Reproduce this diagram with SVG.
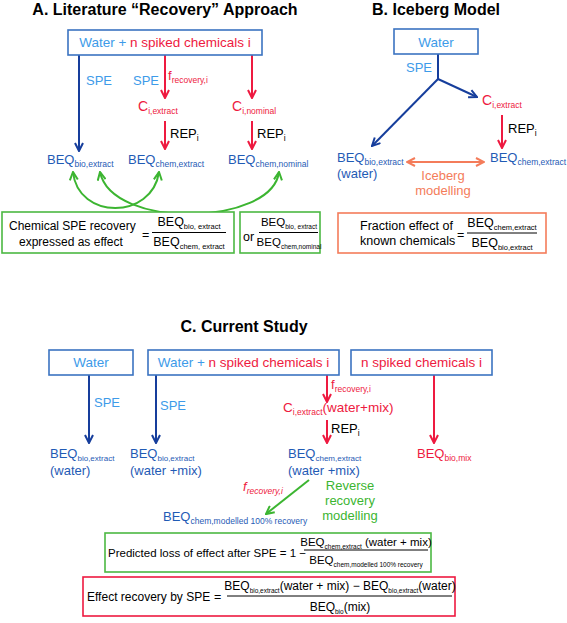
<svg xmlns="http://www.w3.org/2000/svg" width="567" height="623" viewBox="0 0 567 623">
<style>
text{font-family:"Liberation Sans",Arial,sans-serif;font-size:13px}
.title{font-weight:bold;font-size:16px;fill:#000}
.lb{fill:#3d9be9}
.rd{fill:#ee1a40}
.bq{fill:#1f5bb5}
.bk{fill:#000}
.gr{fill:#3cb531}
.or{fill:#f47c5a}
.box{fill:#fff;stroke:#3b73c1;stroke-width:1.6}
.gbox{fill:#fff;stroke:#4cb843;stroke-width:1.6}
.obox{fill:#fff;stroke:#f47c5a;stroke-width:1.6}
.rbox{fill:#fff;stroke:#ee1a40;stroke-width:1.6}
.ab{stroke:#163e9c;stroke-width:2;fill:none}
.ar{stroke:#ee1a40;stroke-width:2;fill:none}
.ag{stroke:#3cb531;stroke-width:2;fill:none}
.ao{stroke:#f47c5a;stroke-width:2;fill:none}
.bar{stroke:#000;stroke-width:1}
.f{font-size:12.5px}
.fs{font-size:11.5px}
</style>
<defs>
<marker id="mb" viewBox="0 0 10 10" refX="9" refY="5" markerWidth="10" markerHeight="10" markerUnits="userSpaceOnUse" orient="auto-start-reverse"><path d="M1,1 L9,5 L1,9" fill="none" stroke="#163e9c" stroke-width="2"/></marker>
<marker id="mr" viewBox="0 0 10 10" refX="9" refY="5" markerWidth="10" markerHeight="10" markerUnits="userSpaceOnUse" orient="auto-start-reverse"><path d="M1,1 L9,5 L1,9" fill="none" stroke="#ee1a40" stroke-width="2"/></marker>
<marker id="mg" viewBox="0 0 10 10" refX="9" refY="5" markerWidth="10" markerHeight="10" markerUnits="userSpaceOnUse" orient="auto-start-reverse"><path d="M1,1 L9,5 L1,9" fill="none" stroke="#3cb531" stroke-width="2"/></marker>
<marker id="mo" viewBox="0 0 10 10" refX="9" refY="5" markerWidth="10" markerHeight="10" markerUnits="userSpaceOnUse" orient="auto-start-reverse"><path d="M1,1 L9,5 L1,9" fill="none" stroke="#f47c5a" stroke-width="2"/></marker>
</defs>

<!-- Titles -->
<text class="title" x="165" y="15" text-anchor="middle">A. Literature “Recovery” Approach</text>
<text class="title" x="436" y="15" text-anchor="middle">B. Iceberg Model</text>
<text class="title" x="244" y="332" text-anchor="middle">C. Current Study</text>

<g id="connectors">
  <!-- A -->
  <line class="ab" x1="79" y1="55" x2="79" y2="151" marker-end="url(#mb)"/>
  <line class="ar" x1="165" y1="55" x2="165" y2="98" marker-end="url(#mr)"/>
  <line class="ar" x1="252" y1="55" x2="252" y2="98" marker-end="url(#mr)"/>
  <line class="ar" x1="165" y1="121" x2="165" y2="149" marker-end="url(#mr)"/>
  <line class="ar" x1="252" y1="121" x2="252" y2="149" marker-end="url(#mr)"/>
  <path class="ag" d="M73,172 C78,220 152,220 159,172" marker-start="url(#mg)" marker-end="url(#mg)"/>
  <path class="ag" d="M100,172 C112,230 272,226 279,172" marker-start="url(#mg)" marker-end="url(#mg)"/>
  <!-- B -->
  <line class="ab" x1="438" y1="54" x2="438" y2="79"/>
  <line class="ab" x1="438" y1="79" x2="372" y2="146" marker-end="url(#mb)"/>
  <line class="ab" x1="438" y1="79" x2="477" y2="97" marker-end="url(#mb)"/>
  <line class="ar" x1="502" y1="115" x2="502" y2="148" marker-end="url(#mr)"/>
  <line class="ao" x1="407" y1="162" x2="484" y2="162" marker-start="url(#mo)" marker-end="url(#mo)"/>
  <!-- C -->
  <line class="ab" x1="89" y1="375" x2="89" y2="443" marker-end="url(#mb)"/>
  <line class="ab" x1="156" y1="375" x2="156" y2="443" marker-end="url(#mb)"/>
  <line class="ar" x1="327" y1="375" x2="327" y2="402" marker-end="url(#mr)"/>
  <line class="ar" x1="327" y1="420" x2="327" y2="443" marker-end="url(#mr)"/>
  <line class="ar" x1="434" y1="375" x2="434" y2="443" marker-end="url(#mr)"/>
  <line class="ag" x1="309" y1="480" x2="266" y2="514" marker-end="url(#mg)"/>
</g>

<!-- Section A nodes -->
<g id="a-source">
  <rect class="box" x="68" y="30" width="194" height="25"/>
  <text x="165" y="47" text-anchor="middle" style="font-size:13.5px"><tspan class="lb">Water + </tspan><tspan class="rd">n spiked chemicals i</tspan></text>
</g>
<g id="a-labels">
  <text class="lb" x="86" y="85">SPE</text>
  <text class="lb" x="133" y="85">SPE</text>
  <text class="rd" x="168" y="80">f<tspan font-size="8.5" dy="3">recovery,i</tspan></text>
  <text class="bk" x="170" y="138">REP<tspan font-size="8.5" dy="3">i</tspan></text>
  <text class="bk" x="257" y="138">REP<tspan font-size="8.5" dy="3">i</tspan></text>
</g>
<g id="a-ciextract"><text class="rd" x="138" y="111" style="font-size:14px">C<tspan font-size="8.5" dy="3">i,extract</tspan></text></g>
<g id="a-cinominal"><text class="rd" x="232" y="111" style="font-size:14px">C<tspan font-size="8.5" dy="3">i,nominal</tspan></text></g>
<g id="a-beq-bio"><text class="bq" x="47" y="164">BEQ<tspan font-size="8.5" dy="3">bio,extract</tspan></text></g>
<g id="a-beq-chem"><text class="bq" x="128" y="164">BEQ<tspan font-size="8.5" dy="3">chem,extract</tspan></text></g>
<g id="a-beq-nom"><text class="bq" x="228" y="164">BEQ<tspan font-size="8.5" dy="3">chem,nominal</tspan></text></g>
<g id="a-formula1">
  <rect class="gbox" x="2" y="212" width="232" height="41"/>
  <text class="bk" x="9" y="230" style="font-size:12px">Chemical SPE recovery</text>
  <text class="bk" x="19" y="246" style="font-size:12px">expressed as effect</text>
  <text class="bk f" x="142" y="239">=</text>
  <text class="bk f" x="189" y="226" text-anchor="middle">BEQ<tspan font-size="7.5" dy="3">bio, extract</tspan></text>
  <line class="bar" x1="152" y1="232.5" x2="226" y2="232.5"/>
  <text class="bk f" x="189" y="246" text-anchor="middle">BEQ<tspan font-size="7.5" dy="3">chem, extract</tspan></text>
</g>
<g id="a-formula2">
  <rect class="gbox" x="240" y="212" width="80" height="41"/>
  <text class="bk f" x="243" y="241">or</text>
  <text class="bk fs" x="289" y="226" text-anchor="middle">BEQ<tspan font-size="6.5" dy="3">bio, extract</tspan></text>
  <line class="bar" x1="259" y1="232.5" x2="318" y2="232.5"/>
  <text class="bk fs" x="289" y="246" text-anchor="middle">BEQ<tspan font-size="6.5" dy="3">chem,nominal</tspan></text>
</g>

<!-- Section B nodes -->
<g id="b-water">
  <rect class="box" x="394" y="29" width="84" height="25"/>
  <text class="lb" x="436" y="47" text-anchor="middle" style="font-size:13.5px">Water</text>
</g>
<g id="b-labels">
  <text class="lb" x="406" y="72">SPE</text>
  <text class="bk" x="508" y="133">REP<tspan font-size="8.5" dy="3">i</tspan></text>
</g>
<g id="b-ciextract"><text class="rd" x="482" y="105" style="font-size:14px">C<tspan font-size="8.5" dy="3">i,extract</tspan></text></g>
<g id="b-beq-bio">
  <text class="bq" x="337" y="162">BEQ<tspan font-size="8.5" dy="2.5">bio,extract</tspan></text>
  <text class="bq" x="337" y="178">(water)</text>
</g>
<g id="b-beq-chem"><text class="bq" x="490" y="162">BEQ<tspan font-size="8.5" dy="3">chem,extract</tspan></text></g>
<g id="b-iceberg">
  <text class="or" x="443" y="180" text-anchor="middle">Iceberg</text>
  <text class="or" x="443" y="195" text-anchor="middle">modelling</text>
</g>
<g id="b-formula">
  <rect class="obox" x="338" y="213" width="208" height="40"/>
  <text class="bk f" x="360" y="230">Fraction effect of</text>
  <text class="bk f" x="360" y="245">known chemicals</text>
  <text class="bk f" x="457" y="239">=</text>
  <text class="bk f" x="502" y="227" text-anchor="middle">BEQ<tspan font-size="7.5" dy="3">chem,extract</tspan></text>
  <line class="bar" x1="467" y1="233" x2="537" y2="233"/>
  <text class="bk f" x="502" y="247" text-anchor="middle">BEQ<tspan font-size="7.5" dy="3">bio,extract</tspan></text>
</g>

<!-- Section C nodes -->
<g id="c-water">
  <rect class="box" x="49" y="350" width="84" height="25"/>
  <text class="lb" x="91" y="367" text-anchor="middle" style="font-size:13.5px">Water</text>
</g>
<g id="c-watermix">
  <rect class="box" x="148" y="350" width="191" height="25"/>
  <text x="243.5" y="367" text-anchor="middle" style="font-size:13.5px"><tspan class="lb">Water + </tspan><tspan class="rd">n spiked chemicals i</tspan></text>
</g>
<g id="c-mix">
  <rect class="box" x="351" y="350" width="141" height="25"/>
  <text class="rd" x="421.5" y="367" text-anchor="middle" style="font-size:13.5px">n spiked chemicals i</text>
</g>
<g id="c-labels">
  <text class="lb" x="94" y="407">SPE</text>
  <text class="lb" x="160" y="410">SPE</text>
  <text class="rd" x="331" y="389">f<tspan font-size="8.5" dy="3">recovery,i</tspan></text>
  <text class="bk" x="331" y="433">REP<tspan font-size="8.5" dy="3">i</tspan></text>
</g>
<g id="c-ciextract"><text class="rd" x="283" y="412" style="font-size:13.5px">C<tspan font-size="8.5" dy="3">i,extract</tspan><tspan dy="-3">(water+mix)</tspan></text></g>
<g id="c-beq-bio-water">
  <text class="bq" x="50" y="458">BEQ<tspan font-size="8" dy="2.5">bio,extract</tspan></text>
  <text class="bq" x="50" y="475">(water)</text>
</g>
<g id="c-beq-bio-mix">
  <text class="bq" x="130" y="458">BEQ<tspan font-size="8" dy="2.5">bio,extract</tspan></text>
  <text class="bq" x="130" y="475">(water +mix)</text>
</g>
<g id="c-beq-chem">
  <text class="bq" x="288" y="458">BEQ<tspan font-size="8" dy="2.5">chem,extract</tspan></text>
  <text class="bq" x="288" y="475">(water +mix)</text>
</g>
<g id="c-beq-biomix"><text class="rd" x="417" y="458">BEQ<tspan font-size="8.5" dy="3">bio,mix</tspan></text></g>
<g id="c-reverse">
  <text class="rd" x="243" y="491" style="font-style:italic;font-size:13px">f<tspan font-size="8.5" dy="3">recovery,i</tspan></text>
  <text class="gr" x="350" y="490" text-anchor="middle">Reverse</text>
  <text class="gr" x="350" y="505" text-anchor="middle">recovery</text>
  <text class="gr" x="350" y="520" text-anchor="middle">modelling</text>
</g>
<g id="c-beq-modelled"><text class="bq" x="163" y="521">BEQ<tspan font-size="8.5" dy="3">chem,modelled 100% recovery</tspan></text></g>
<g id="c-formula-loss">
  <rect class="gbox" x="105" y="533" width="326" height="39"/>
  <text class="bk fs" x="108" y="557">Predicted loss of effect after SPE = 1 −</text>
  <text class="bk fs" x="366" y="546" text-anchor="middle">BEQ<tspan font-size="6.5" dy="3">chem,extract</tspan><tspan dy="-3"> (water + mix)</tspan></text>
  <line class="bar" x1="304" y1="550" x2="428" y2="550"/>
  <text class="bk fs" x="366" y="564" text-anchor="middle">BEQ<tspan font-size="6.5" dy="3">chem,modelled 100% recovery</tspan></text>
</g>
<g id="c-formula-recovery">
  <rect class="rbox" x="83" y="577" width="372" height="39"/>
  <text class="bk" x="87" y="601" style="font-size:12px">Effect recovery by SPE</text>
  <text class="bk f" x="214" y="601">=</text>
  <text class="bk" x="340" y="590" text-anchor="middle" style="font-size:12px">BEQ<tspan font-size="6.5" dy="3">bio,extract</tspan><tspan dy="-3">(water + mix) − BEQ</tspan><tspan font-size="6.5" dy="3">bio,extract</tspan><tspan dy="-3">(water)</tspan></text>
  <line class="bar" x1="227" y1="596" x2="452" y2="596"/>
  <text class="bk" x="340" y="611" text-anchor="middle" style="font-size:12px">BEQ<tspan font-size="6.5" dy="3">bio</tspan><tspan dy="-3">(mix)</tspan></text>
</g>
</svg>
